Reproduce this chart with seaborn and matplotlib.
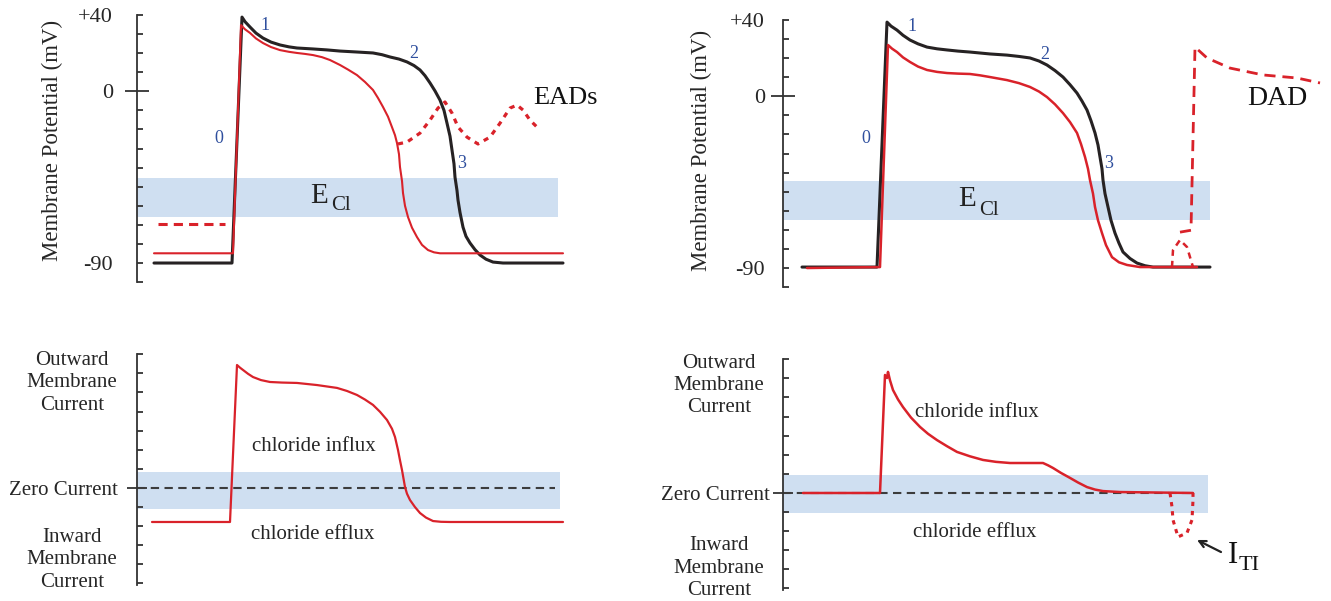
import matplotlib
matplotlib.use('Agg')
import matplotlib.pyplot as plt
from matplotlib.ticker import FixedLocator, FixedFormatter, FuncFormatter
import seaborn as sns

# ---------------- data ----------------
# top-left: ventricular action potential, control (black) vs modified (red), with EADs
# time in ms from the axis, potential in mV
tl_black_t = [17, 95, 105, 108, 113, 119, 126, 134, 143, 152, 160, 176, 190, 203,
              220, 236, 245, 253, 262, 270, 277, 283, 288, 293, 298, 303, 307, 310,
              313, 315, 317, 318, 320, 321, 323, 326, 329, 333, 338, 343, 349, 356,
              366, 426]
tl_black_v = [-90, -90, 38.9, 36.5, 33.7, 30.5, 27.9, 25.8, 24.3, 23.3, 22.7, 22.2,
              21.7, 21.1, 20.6, 20.1, 19.2, 18.0, 16.9, 15.4, 13.5, 11.2, 8.2, 4.4,
              0.2, -4.6, -10.0, -16.7, -23.5, -30.8, -38.0, -45.0, -52.0, -57.0,
              -63.5, -71.2, -76.0, -79.5, -83.0, -85.8, -88.0, -89.5, -90, -90]
tl_red_t = [17, 96, 104, 108, 113, 119, 126, 134, 143, 152, 160, 168, 176, 185, 193,
            203, 211, 220, 228, 236, 241, 246, 251, 255, 258, 260, 262, 263, 265,
            266, 268, 271, 275, 280, 285, 291, 297, 303, 426]
tl_red_v = [-84.9, -84.9, 34.7, 32.5, 30.6, 27.7, 25.3, 23.2, 21.6, 20.7, 20.1, 19.6,
            19.0, 17.9, 16.4, 13.8, 11.4, 8.5, 4.9, 0.7, -3.5, -8.2, -13.3, -18.8,
            -23.0, -27.1, -33.0, -39.7, -47.0, -53.3, -60.0, -65.9, -71.5, -76.4,
            -80.5, -83.2, -84.4, -84.9, -84.9]
tl_rest_t = [21, 88]
tl_rest_v = [-69.5, -69.5]
ead_t = [261, 270, 283, 293, 301, 308, 315, 321, 330, 341, 353, 363, 373, 380, 386,
         393, 403]
ead_v = [-27.6, -26.6, -21.9, -15.1, -8.8, -5.6, -11.4, -18.7, -24.0, -27.6, -24.0,
         -16.7, -8.8, -7.2, -9.8, -15.1, -20.3]
tl_band_t = [0, 421]
tl_band_v = [-65.9, -45.4]

# top-right: action potential with DAD
tr_black_t = [19, 94, 104, 108, 114, 120, 127, 135, 144, 154, 164, 175, 187, 197,
              207, 224, 236, 247, 256, 264, 272, 280, 287, 294, 299, 304, 308, 312,
              315, 317, 319, 320, 322, 325, 328, 332, 336, 340, 347, 354, 362, 370,
              427]
tr_black_v = [-89.5, -89.5, 38.9, 36.8, 34.7, 32.0, 29.5, 27.5, 25.8, 24.9, 24.3,
              23.7, 23.2, 22.7, 22.2, 21.6, 20.9, 20.1, 18.5, 16.4, 13.5, 10.1, 6.1,
              1.7, -2.5, -7.2, -12.8, -19.2, -25.5, -31.8, -38.0, -43.9, -51.0,
              -58.0, -65.0, -71.7, -77.0, -81.6, -85.0, -87.4, -88.8, -89.5, -89.5]
tr_red_t = [24, 97, 105, 109, 114, 120, 127, 135, 144, 154, 164, 175, 187, 197, 207,
            224, 236, 247, 256, 264, 272, 280, 287, 294, 298, 302, 305, 307, 310,
            312, 315, 319, 323, 329, 336, 344, 357, 414]
tr_red_v = [-90.0, -89.5, 26.9, 25.0, 23.2, 20.4, 18.0, 15.6, 13.8, 12.8, 12.2, 11.9,
            11.7, 11.0, 10.1, 8.5, 6.9, 4.9, 2.5, -0.4, -4.2, -8.8, -13.5, -19.2,
            -25.0, -31.8, -38.0, -43.9, -51.0, -58.0, -65.0, -71.7, -78.0, -84.3,
            -87.0, -88.4, -89.5, -89.5]
dad_sub_t = [389, 390, 397, 404, 410]
dad_sub_v = [-89.5, -80.6, -75.3, -79.0, -89.5]
dad_t = [397, 408, 412, 424, 447, 480, 514, 537]
dad_v = [-71.2, -70.2, 25.8, 20.1, 14.8, 11.2, 9.6, 7.0]
tr_band_t = [0, 427]
tr_band_v = [-64.9, -44.4]

# bottom-left: chloride current during the action potential (tick units)
bl_t = [15, 93, 100, 103, 106, 111, 116, 124, 133, 145, 160, 180, 200, 210, 220,
        228, 236, 243, 250, 255, 258, 261, 263, 265, 268, 270, 273, 278, 283, 289,
        296, 304, 313, 426]
bl_i = [-1.78, -1.78, 6.44, 6.30, 6.18, 5.98, 5.81, 5.65, 5.55, 5.52, 5.50, 5.39,
        5.24, 5.08, 4.87, 4.63, 4.35, 3.99, 3.56, 3.10, 2.67, 1.99, 1.45, 0.94,
        0.05, -0.30, -0.63, -1.00, -1.31, -1.55, -1.73, -1.77, -1.78, -1.78]
bl_zero_t = [0, 418]
bl_band_t = [0, 423]
bl_band_i = [-1.10, 0.84]

# bottom-right: chloride current with transient inward current
br_t = [20, 97, 102, 104, 105, 107, 110, 115, 120, 128, 137, 145, 154, 164, 174,
        187, 200, 213, 227, 260, 265, 270, 278, 287, 295, 304, 312, 320, 337, 410]
br_i = [0, 0, 6.18, 6.02, 6.34, 5.90, 5.39, 4.90, 4.50, 3.95, 3.46, 3.10, 2.77,
        2.45, 2.15, 1.92, 1.73, 1.63, 1.57, 1.57, 1.45, 1.31, 1.05, 0.79, 0.55,
        0.31, 0.18, 0.10, 0.05, 0]
iti_t = [387, 389, 390, 395, 404, 409, 410, 410]
iti_i = [0, -0.73, -1.41, -2.30, -2.09, -1.41, -0.37, 0]
br_zero_t = [0, 412]
br_band_t = [0, 425]
br_band_i = [-1.05, 0.94]

phase_labels = ['0', '1', '2', '3']
tl_phase_t = [82, 128, 277, 325]
tl_phase_v = [-24.5, 34.7, 19.8, -37.6]
tr_phase_t = [83, 129, 262, 326]
tr_phase_v = [-21.9, 36.8, 21.8, -35.0]

v_minor = list(range(-100, 41, 10))
v_named = {40: '+40', -90: '-90'}
i_minor = list(range(-5, 8))

# ---------------- style ----------------
RED = '#d9222a'
BLACK = '#262223'
BLUE = '#2f4f9e'
BAND = '#cfdff1'
AXC = '#333333'
DASHC = '#3c3c3c'

sns.set_theme(style='white')
plt.rcParams['font.family'] = ['Liberation Serif', 'DejaVu Serif']

W, H = 1331, 601
fig = plt.figure(figsize=(W / 100, H / 100), dpi=100)


def panel(x0, x1, ytop, ybot):
    ax = fig.add_axes([x0 / W, 1 - ybot / H, (x1 - x0) / W, (ybot - ytop) / H])
    for s in ['top', 'right', 'bottom']:
        ax.spines[s].set_visible(False)
    ax.spines['left'].set_color(AXC)
    ax.spines['left'].set_linewidth(1.3)
    ax.patch.set_alpha(0)
    return ax


def trace(ax, t, y, color, lw, ls='-', z=3):
    sns.lineplot(x=t, y=y, ax=ax, color=color, linewidth=lw, linestyle=ls,
                 sort=False, estimator=None, clip_on=False, zorder=z,
                 legend=False, solid_joinstyle='round', dash_capstyle='butt')


def finish(ax, tmax, ylim, zero_label, minor, minor_fmt, zero_len, pad_major,
           pad_minor, size):
    ax.set_xlim(0, tmax)
    ax.set_ylim(*ylim)
    ax.set_xticks([])
    ax.set_xlabel('')
    ax.set_ylabel('')
    ax.yaxis.set_major_locator(FixedLocator([0]))
    ax.yaxis.set_major_formatter(FixedFormatter([zero_label]))
    ax.yaxis.set_minor_locator(FixedLocator(minor))
    ax.yaxis.set_minor_formatter(FuncFormatter(minor_fmt))
    ax.tick_params(axis='y', which='major', direction='inout', length=zero_len,
                   width=1.3, color=AXC, left=True, pad=pad_major, labelsize=size)
    ax.tick_params(axis='y', which='minor', direction='in', length=4, width=1.3,
                   color=AXC, left=True, labelleft=True, pad=pad_minor,
                   labelsize=size)


def v_fmt(v, pos):
    return v_named.get(int(round(v)), '')


def no_fmt(v, pos):
    return ''


ax_tl = panel(137, 607, 15.0, 282.1)
ax_tr = panel(783, 1331, 20.0, 287.1)
ax_bl = panel(137, 607, 354.3, 585.4)
ax_br = panel(783, 1331, 359.3, 590.4)

# ---- top-left
ax = ax_tl
ax.fill_between(tl_band_t, tl_band_v[0], tl_band_v[1], color=BAND, lw=0, zorder=0)
trace(ax, tl_rest_t, tl_rest_v, RED, 2.2, (0, (3.0, 2.0)))
trace(ax, tl_black_t, tl_black_v, BLACK, 2.2, z=3)
trace(ax, tl_red_t, tl_red_v, RED, 1.5, z=4)
trace(ax, ead_t, ead_v, RED, 2.3, (0, (1.6, 1.7)), z=4)
for lab, t, v in zip(phase_labels, tl_phase_t, tl_phase_v):
    ax.text(t, v, lab, color=BLUE, fontsize=13, ha='center', va='center')
ax.text(173, -54.9, 'E', fontsize=21, ha='left', va='center', color='#222')
ax.text(194, -59.8, 'Cl', fontsize=15, ha='left', va='center', color='#222')
ax.text(396, -3.5, 'EADs', fontsize=19, ha='left', va='center', color='#111')
finish(ax, 470, (-100, 40), '0', v_minor, v_fmt, 17, 8.8, 17.3, 16)
ax.set_ylabel('Membrane Potential (mV)', fontsize=16.5)
ax.yaxis.set_label_coords((63 - 137) / 470, 0.53)

# ---- top-right
ax = ax_tr
ax.fill_between(tr_band_t, tr_band_v[0], tr_band_v[1], color=BAND, lw=0, zorder=0)
trace(ax, tr_black_t, tr_black_v, BLACK, 2.2, z=3)
trace(ax, tr_red_t, tr_red_v, RED, 1.8, z=4)
trace(ax, dad_sub_t, dad_sub_v, RED, 1.8, (0, (2.5, 2.0)), z=4)
trace(ax, dad_t, dad_v, RED, 2.0, (0, (4.0, 2.5)), z=4)
for lab, t, v in zip(phase_labels, tr_phase_t, tr_phase_v):
    ax.text(t, v, lab, color=BLUE, fontsize=13, ha='center', va='center')
ax.text(175, -53.8, 'E', fontsize=21, ha='left', va='center', color='#222')
ax.text(196, -59.8, 'Cl', fontsize=15, ha='left', va='center', color='#222')
ax.text(494, -1.4, 'DAD', fontsize=20, ha='center', va='center', color='#111')
finish(ax, 548, (-100, 40), '0', v_minor, v_fmt, 17, 4.5, 13, 16)
ax.set_ylabel('Membrane Potential (mV)', fontsize=16.5)
ax.yaxis.set_label_coords((712 - 783) / 548, 0.51)

# ---- bottom-left
ax = ax_bl
ax.fill_between(bl_band_t, bl_band_i[0], bl_band_i[1], color=BAND, lw=0, zorder=0)
trace(ax, bl_zero_t, [0, 0], DASHC, 1.5, (0, (4.0, 2.6)), z=2)
trace(ax, bl_t, bl_i, RED, 1.6, z=4)
ax.text(177, 2.15, 'chloride influx', fontsize=15, ha='center', va='center')
ax.text(176, -2.46, 'chloride efflux', fontsize=15, ha='center', va='center')
ax.text(-65, 5.5, 'Outward\nMembrane\nCurrent', fontsize=15, ha='center',
        va='center', linespacing=1.22)
ax.text(-65, -3.77, 'Inward\nMembrane\nCurrent', fontsize=15, ha='center',
        va='center', linespacing=1.22)
finish(ax, 470, (-5.1, 7), 'Zero Current', i_minor, no_fmt, 14, 6.7, 6.7, 15)

# ---- bottom-right
ax = ax_br
ax.fill_between(br_band_t, br_band_i[0], br_band_i[1], color=BAND, lw=0, zorder=0)
trace(ax, br_zero_t, [0, 0], DASHC, 1.5, (0, (4.0, 2.6)), z=2)
trace(ax, br_t, br_i, RED, 1.8, z=4)
trace(ax, iti_t, iti_i, RED, 2.2, (0, (1.4, 1.6)), z=4)
ax.text(194, 4.19, 'chloride influx', fontsize=15, ha='center', va='center')
ax.text(192, -2.09, 'chloride efflux', fontsize=15, ha='center', va='center')
ax.text(-64, 5.65, 'Outward\nMembrane\nCurrent', fontsize=15, ha='center',
        va='center', linespacing=1.22)
ax.text(-64, -3.93, 'Inward\nMembrane\nCurrent', fontsize=15, ha='center',
        va='center', linespacing=1.22)
ax.annotate('', xy=(414, -2.46), xytext=(438, -3.09), annotation_clip=False,
            arrowprops=dict(arrowstyle='->', lw=1.6, color='#222',
                            shrinkA=0, shrinkB=0))
ax.text(445, -3.25, 'I', fontsize=22, ha='left', va='center', color='#111')
ax.text(456, -3.8, 'TI', fontsize=16, ha='left', va='center', color='#111')
finish(ax, 548, (-5.1, 7), 'Zero Current', i_minor, no_fmt, 14, 2.4, 2.4, 15)

fig.savefig('out.png', dpi=100)
